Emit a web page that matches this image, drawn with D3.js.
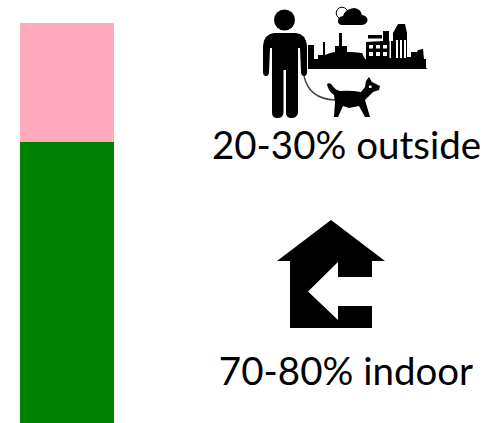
<!DOCTYPE html>
<html>
<head>
<meta charset="utf-8">
<script src="https://cdnjs.cloudflare.com/ajax/libs/d3/7.9.0/d3.min.js"></script>
<style>
  html, body { margin: 0; padding: 0; background: #fff; }
  svg { display: block; }
  text { font-family: Lato, "Open Sans", sans-serif; fill: #000; }
</style>
</head>
<body>
<svg id="chart" width="486" height="423"></svg>
<script>
// Share of time spent in each setting (percent), stacked from the bottom up
const settings = ["indoor", "outside"];
const shares = [70.25, 29.75];
const shareColors = ["#008000", "#ffaabf"];
const captions = ["70-80% indoor", "20-30% outside"];

const svg = d3.select("#chart");
const y = d3.scaleLinear().domain([0, 100]).range([423, 23]);
const x = d3.scaleBand().domain(["share"]).range([20, 114]);

const stacked = d3.stack().keys(settings)([
  Object.fromEntries(settings.map((s, i) => [s, shares[i]]))
]);

svg.selectAll("rect.share")
  .data(stacked)
  .join("rect")
  .attr("class", "share")
  .attr("x", x("share"))
  .attr("width", x.bandwidth())
  .attr("y", d => y(d[0][1]))
  .attr("height", d => y(d[0][0]) - y(d[0][1]))
  .attr("fill", (d, i) => shareColors[i]);

// Captions beside the bar
svg.append("text").attr("x", 346).attr("y", 385).attr("text-anchor", "middle")
  .attr("font-size", 38.5).text(captions[0]);
svg.append("text").attr("x", 346.5).attr("y", 159).attr("text-anchor", "middle")
  .attr("font-size", 38.5).text(captions[1]);

// House pictogram with an inward arrow
svg.append("path").attr("fill", "#000").attr("d",
  "M331,220 L385,261 L372,261 L372,277 L338,277 L338,262 L308,291.5 L338,320 L338,306 L372,306 L372,328 L290,328 L290,261 L277,261 Z");

// Person, leash, dog and skyline pictogram
const icon = svg.append("g").attr("fill", "#000");
icon.append("circle").attr("cx", 284.5).attr("cy", 20).attr("r", 10.5);
icon.append("path").attr("d",
  "M274,33 L296,33 Q306,34 307,46 L307,72 Q307,76 304,76 Q301,76 301,72 L300,48 L298,48 L298,113 Q297,118 291.5,118 Q286,118 286,113 L286,70 L283.5,70 L283.5,113 Q283,118 277.5,118 Q272,118 272,113 L272,48 L270,48 L269,72 Q269,76 266,76 Q263,76 263,72 L263,46 Q264,34 274,33 Z");
icon.append("path").attr("fill", "none").attr("stroke", "#444").attr("stroke-width", 1.4)
  .attr("d", "M304,76 Q309,99 335,100");
icon.append("path").attr("d",
  "M327,84 Q330,82 332,85 Q335,90 340,91 Q350,90 361,92 L365,87 L366,81 L369,77 L372,82 L380,86 L379,90 L373,92 L368,97 L365,100 L370,117 L365,117 L359,106 L349,108 L343,106 L338,117 L334,117 L335,102 L334,95 Q328,91 327,84 Z");
icon.append("path").attr("fill", "#fff").attr("d",
  "M369,85.5 h2.5 v2.5 h-2.5 Z");
icon.append("path").attr("d",
  "M308,45 L314,45 L314,59 L318,59 L318,55 L323,55 L323,42 L325,42 L325,55 L330,53 L335,52 L335,46 L339,46 L339,33 L342,33 L342,46 L347,46 L347,52 L352,52 L362,53 L365,59 L366,59 L366,42 L383,41 L383,31 L389,31 L389,41 L393,41 L393,33 L398,24 L405,24 L407,33 L407,57 L411,57 L411,52 L417,52 L418,50 L423,49 L424,59 L426,59 L426,68 L428,69 L308,69 Z");
icon.append("rect").attr("x", 368).attr("y", 35).attr("width", 14).attr("height", 3.5);
icon.append("path").attr("fill", "#fff").attr("d",
  "M369,45 h4 v3.5 h-4 Z M376,45 h4 v3.5 h-4 Z M383,45 h4 v3.5 h-4 Z M369,52 h4 v4 h-4 Z M376,52 h4 v4 h-4 Z M383,52 h4 v4 h-4 Z M396,40 h2 v18 h-2 Z M400,40 h2 v18 h-2 Z M404,40 h2 v18 h-2 Z M389.5,41 h1.5 v17 h-1.5 Z");
icon.append("circle").attr("cx", 342).attr("cy", 13).attr("r", 5.8).attr("fill", "none").attr("stroke", "#000").attr("stroke-width", 1);
icon.append("path").attr("d",
  "M338,22 Q337,17 343,16 Q345,9 354,8 Q361,9 362,15 Q368,16 367.5,21 Q366,25 361,25 L342,25 Q339,25 338,22 Z");
</script>
</body>
</html>
